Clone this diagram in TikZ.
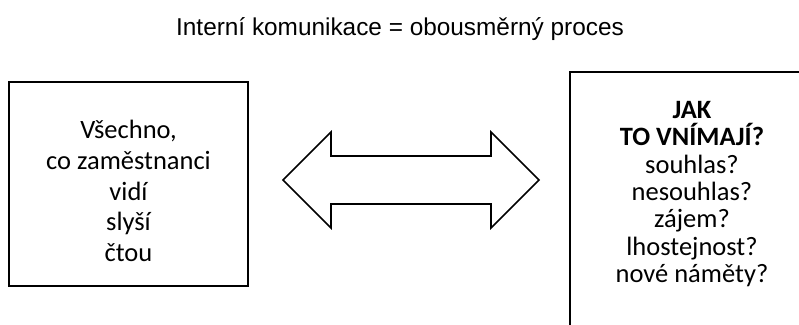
\documentclass[tikz,border=0pt]{standalone}
\usepackage{fontspec}
\setmainfont{Carlito}
\newfontfamily\titlefont{Liberation Sans}
\usetikzlibrary{positioning}

\begin{document}
\begin{tikzpicture}[
        x=0.03cm, y=-0.03cm,
        every node/.style={align=center, inner sep=0pt},
        boxline/.style={draw=black, line width=1.6pt},
        arrowline/.style={draw=black, line width=1.3pt, line join=miter}
    ]
        \useasboundingbox (0,0) rectangle (799,324);
        \clip (0,0) rectangle (799,324);

        % --- Title ---
        \node[font=\titlefont\fontsize{20.8}{24}\selectfont, anchor=base] (title) at (400,35) {Interní komunikace = obousměrný proces};

        % --- Left box: what the staff get ---
        \node[boxline, minimum width=7.17cm, minimum height=6.12cm] (seen) at (128.5,184) {};
        \node[font=\fontsize{22.6}{26.2}\selectfont] (seentext) at (128.5,191) {Všechno,\\co zaměstnanci\\vidí\\slyší\\čtou};

        % --- Right box: how they take it (runs off the page) ---
        \node[boxline, minimum width=7.32cm, minimum height=8.04cm] (heard) at (692,206) {};
        \node[font=\fontsize{22.6}{23.4}\selectfont] (heardtext) at (692,194) {\textbf{JAK}\\\textbf{TO VNÍMAJÍ?}\\souhlas?\\nesouhlas?\\zájem?\\lhostejnost?\\nové náměty?};

        % --- Double arrow between the boxes ---
        \draw[arrowline] (283,180) -- (331,132) -- (331,156) -- (491,156) -- (491,132) -- (539,180)
            -- (491,228) -- (491,204) -- (331,204) -- (331,228) -- cycle;

    \end{tikzpicture}
\end{document}
